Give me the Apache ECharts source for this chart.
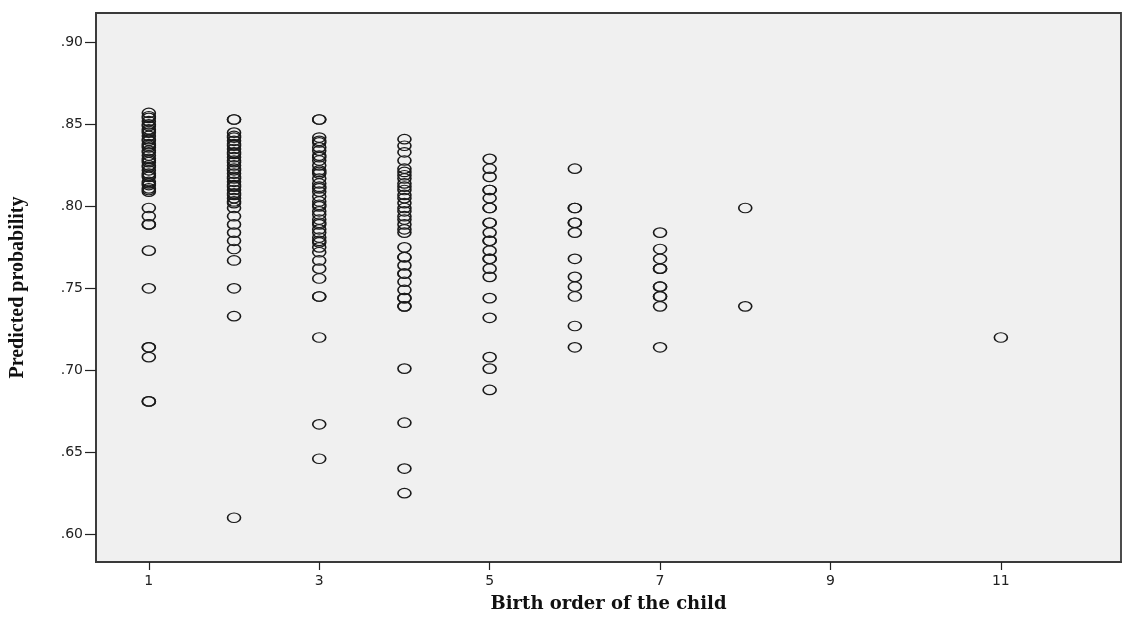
<!DOCTYPE html>
<html>
<head>
<meta charset="utf-8">
<script src="https://cdn.jsdelivr.net/npm/echarts@6/dist/echarts.min.js"></script>
<style>html,body{margin:0;padding:0;background:#fff;}#c{width:1138px;height:619px;}</style>
</head>
<body>
<div id="c"></div>
<script>
// Birth order categories and predicted probabilities
const birthOrders = [1, 2, 3, 4, 5, 6, 7, 8, 11];
const order1 = [.857,.854,.852,.849,.847,.845,.843,.840,.838,.836,.834,.831,.829,.827,.825,.822,.820,.818,.815,.813,.811,.809,
  .855,.850,.846,.841,.837,.833,.828,.824,.819,.814,.810,
  .799,.794,.789,.789,.773,.750,.714,.714,.708,.681,.681];
const order2 = [.853,.853,.845,.842,.840,.837,.835,.832,.830,.827,.825,.822,.820,.817,.815,.812,.810,.807,.805,.802,.799,
  .843,.838,.833,.828,.823,.818,.813,.808,.803,
  .794,.789,.784,.779,.774,.767,.750,.733,.610];
const order3 = [.853,.853,.842,.839,.836,.834,.831,.828,.825,.822,.820,.817,.814,.811,.809,.806,.803,.800,.797,.795,.792,.789,.786,.784,.781,.778,.775,.772,
  .840,.830,.821,.812,.801,.790,.779,
  .767,.762,.756,.745,.745,.720,.667,.646];
const order4 = [.841,.837,.833,.828,.823,.821,.819,.817,.814,.812,.810,.807,.805,.802,.799,.797,.794,.792,.789,.786,.784,
  .775,.769,.769,.764,.759,.759,.754,.749,.744,.744,.739,.739,
  .701,.668,.640,.625];
const order5 = [.829,.823,.818,.810,.810,.805,.799,.799,.790,.790,.784,.779,.779,.773,.768,.768,.762,.757,.744,.732,.708,.701,.688];
const order6 = [.823,.799,.799,.790,.790,.784,.768,.757,.751,.745,.727,.714];
const order7 = [.784,.774,.768,.762,.762,.751,.751,.745,.745,.739,.714];
const order8 = [.799,.739];
const order11 = [.720];

const groups = [order1, order2, order3, order4, order5, order6, order7, order8, order11];
const points = [];
groups.forEach((vals, i) => vals.forEach(v => points.push([birthOrders[i], v])));

const xTicks = [1, 3, 5, 7, 9, 11];
const yTicks = [0.60, 0.65, 0.70, 0.75, 0.80, 0.85, 0.90];

const chart = echarts.init(document.getElementById('c'), null, {renderer: 'canvas'});
chart.setOption({
  backgroundColor: '#ffffff',
  animation: false,
  grid: {left: 93, right: 17, top: 13, bottom: 57, show: true,
    backgroundColor: '#f0f0f0', borderColor: '#3a3a3a', borderWidth: 1.8},
  xAxis: {
    type: 'value', min: 0.38, max: 12.41,
    name: 'Birth order of the child', nameLocation: 'middle', nameGap: 33,
    nameTextStyle: {fontFamily: 'DejaVu Serif', fontWeight: 'bold', fontSize: 18, color: '#111'},
    axisLine: {show: true, lineStyle: {color: '#3a3a3a', width: 1.8}},
    axisTick: {show: true, length: 8, customValues: xTicks, lineStyle: {color: '#222', width: 1.2}},
    axisLabel: {customValues: xTicks, fontFamily: 'DejaVu Sans', fontSize: 14, color: '#222', margin: 12},
    splitLine: {show: false}
  },
  yAxis: {
    type: 'value', min: 0.583, max: 0.918,
    name: 'Predicted probability', nameLocation: 'middle', nameGap: 68, nameRotate: 90,
    nameTextStyle: {fontFamily: 'Liberation Serif', fontWeight: 'bold', fontSize: 20, color: '#111'},
    axisLine: {show: true, lineStyle: {color: '#3a3a3a', width: 1.8}},
    axisTick: {show: true, length: 11, customValues: yTicks, lineStyle: {color: '#222', width: 1.2}},
    axisLabel: {customValues: yTicks, fontFamily: 'DejaVu Sans', fontSize: 14, color: '#222', margin: 13,
      formatter: v => v.toFixed(2).replace(/^0/, '')},
    splitLine: {show: false}
  },
  series: [{
    type: 'scatter', data: points, symbol: 'circle', symbolSize: [13, 9.5],
    itemStyle: {color: 'rgba(0,0,0,0)', borderColor: '#1a1a1a', borderWidth: 1.4, opacity: 1}
  }]
});
</script>
</body>
</html>
